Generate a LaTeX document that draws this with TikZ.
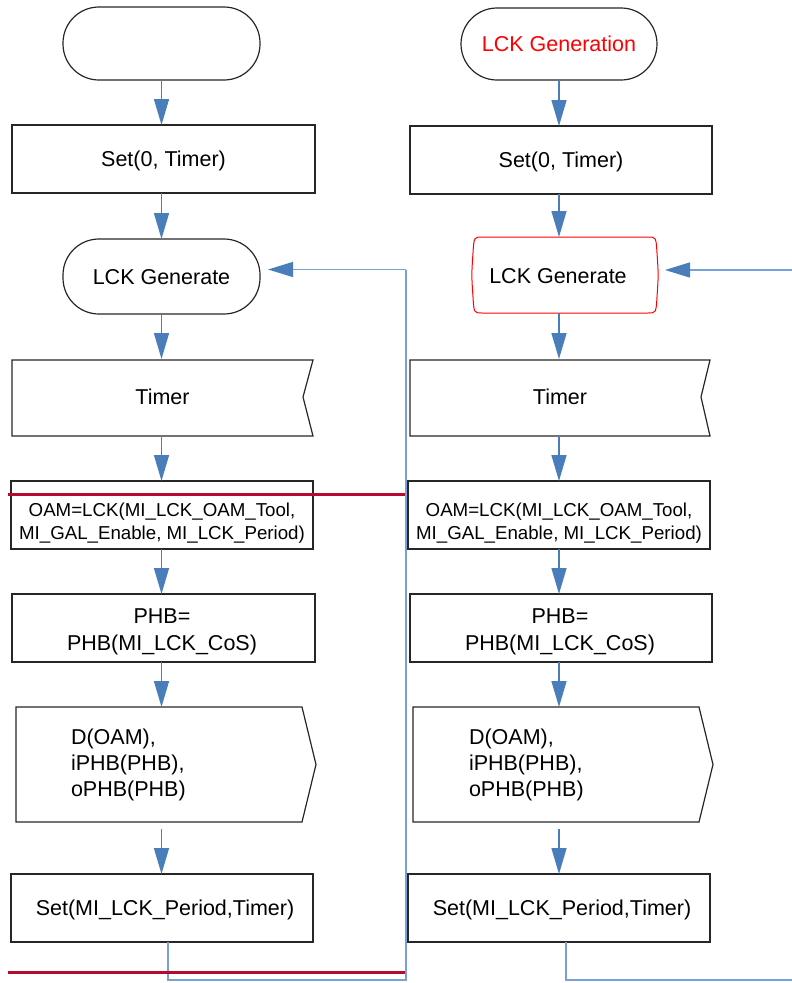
\documentclass[tikz,border=0pt]{standalone}
\usepackage{fontspec}
\setmainfont{Liberation Sans}
\usetikzlibrary{arrows.meta}
\definecolor{arrowblue}{RGB}{74,126,187}
\definecolor{loopblue}{RGB}{118,160,216}
\definecolor{outl}{RGB}{38,38,38}
\definecolor{redline}{RGB}{184,10,48}
\tikzset{
  base/.style={inner sep=0pt,outer sep=0pt,font=\fontsize{21.5}{27}\selectfont,align=center},
  capc/.style={text height=15.4pt,text depth=0pt},
  boxn/.style={base,capc,draw=outl,line width=1.2pt,minimum width=302pt,minimum height=68pt},
  termn/.style={base,capc,draw=outl,line width=1.2pt,rounded corners=36pt,minimum width=197pt,minimum height=73pt},
  plainn/.style={base},
  outline/.style={draw=outl,line width=1.2pt},
  conn/.style={draw=arrowblue,line width=1.5pt,-{Triangle[length=26pt,width=15pt,color=arrowblue]}},
  loopl/.style={draw=loopblue,line width=1.4pt},
  looparrow/.style={loopl,-{Triangle[length=25pt,width=15pt,color=arrowblue]}},
  redl/.style={draw=redline,line width=3pt}
}
\begin{document}
\begin{tikzpicture}[x=1pt,y=-1pt]
\useasboundingbox (0,0) rectangle (792,983);
% ---------- left column ----------
\coordinate (cx1) at (161.5,0);
\node[termn] (term1) at (161.5,43.5) {};
\node[boxn,minimum width=303pt] (set1) at (163.5,159) {Set(0, Timer)};
\node[termn,minimum height=75pt] (lck1) at (161.5,276.5) {LCK Generate};
\node[plainn,capc,minimum width=301pt,minimum height=76pt] (timer1) at (162.5,397) {Timer};
\draw[outline] ([yshift=-1pt]timer1.north west) -- ([yshift=-1pt]timer1.north east) -- ([xshift=-10pt]timer1.east) -- ([yshift=-1pt]timer1.south east) -- ([yshift=-1pt]timer1.south west) -- cycle;
\node[plainn,outline,minimum width=302pt,minimum height=68pt] (oam1) at (162,515) {};
\node[plainn,font=\fontsize{18.7}{22.5}\selectfont] (oam1t) at (162,523) {OAM=LCK(MI\_LCK\_OAM\_Tool,\\MI\_GAL\_Enable, MI\_LCK\_Period)};
\node[plainn,outline,minimum width=303pt,minimum height=68pt] (phb1) at (163.5,628) {};
\node[plainn] (phb1t) at (162,632) {PHB=\\PHB(MI\_LCK\_CoS)};
\node[plainn,minimum width=300pt,minimum height=115pt] (out1) at (166,764.5) {};
\draw[outline] (out1.north west) -- ([xshift=-14pt]out1.north east) -- (out1.east) -- ([xshift=-14pt]out1.south east) -- (out1.south west) -- cycle;
\node[plainn,anchor=west,align=left,font=\fontsize{21.5}{25.8}\selectfont] (out1t) at (71,765) {D(OAM),\\iPHB(PHB),\\oPHB(PHB)};
\node[plainn,outline,minimum width=302pt,minimum height=68pt] (setp1) at (162,908) {};
\node[plainn,capc] (setp1t) at (165,907.5) {Set(MI\_LCK\_Period,Timer)};

\draw[conn] (term1.south) -- (cx1 |- set1.north);
\draw[conn] (cx1 |- set1.south) -- (lck1.north);
\draw[conn] (lck1.south) -- (cx1 |- timer1.north);
\draw[conn] (cx1 |- timer1.south) -- (cx1 |- oam1.north);
\draw[conn] (cx1 |- oam1.south) -- (cx1 |- phb1.north);
\draw[conn] (cx1 |- phb1.south) -- (cx1 |- out1.north);
\draw[conn,shorten <=7pt] (cx1 |- out1.south) -- (cx1 |- setp1.north);

\coordinate (lb1) at (406,980);
\coordinate (lt1) at (406,269.5);
\draw[loopl] ([xshift=6pt]setp1.south) |- (lb1) -- (lt1);
\draw[looparrow] (lt1) -- ([xshift=8pt]lck1.east |- lt1);

% ---------- right column ----------
\coordinate (cx2) at (559,0);
\node[termn,minimum width=196pt,minimum height=72pt,text=red] (term2) at (559,44) {LCK Generation};
\node[boxn] (set2) at (561,160) {Set(0, Timer)};
\node[plainn,minimum width=184pt,minimum height=76pt] (lck2) at (565,275) {};
\draw[draw=red,line width=1pt] ([xshift=9pt]lck2.north west) -- ([xshift=-9pt]lck2.north east)
  .. controls ([xshift=-1pt]lck2.north east) .. ([yshift=-16pt]lck2.north east)
  .. controls ([xshift=1.5pt]lck2.east) .. ([yshift=16pt]lck2.south east)
  .. controls ([xshift=-1pt]lck2.south east) .. ([xshift=-9pt]lck2.south east)
  -- ([xshift=9pt]lck2.south west)
  .. controls ([xshift=1pt]lck2.south west) .. ([yshift=16pt]lck2.south west)
  .. controls ([xshift=-1.5pt]lck2.west) .. ([yshift=-16pt]lck2.north west)
  .. controls ([xshift=1pt]lck2.north west) .. cycle;
\node[plainn,capc] (lck2t) at (558,276) {LCK Generate};
\node[plainn,capc,minimum width=300pt,minimum height=76pt] (timer2) at (560,397) {Timer};
\draw[outline] ([yshift=-1pt]timer2.north west) -- ([yshift=-1pt]timer2.north east) -- ([xshift=-9pt]timer2.east) -- ([yshift=-1pt]timer2.south east) -- ([yshift=-1pt]timer2.south west) -- cycle;
\node[plainn,outline,minimum width=302pt,minimum height=68pt] (oam2) at (559,515) {};
\node[plainn,font=\fontsize{18.7}{22.5}\selectfont] (oam2t) at (559,523) {OAM=LCK(MI\_LCK\_OAM\_Tool,\\MI\_GAL\_Enable, MI\_LCK\_Period)};
\node[plainn,outline,minimum width=302pt,minimum height=68pt] (phb2) at (561,628) {};
\node[plainn] (phb2t) at (560,632) {PHB=\\PHB(MI\_LCK\_CoS)};
\node[plainn,minimum width=300pt,minimum height=115pt] (out2) at (563,764.5) {};
\draw[outline] (out2.north west) -- ([xshift=-14pt]out2.north east) -- (out2.east) -- ([xshift=-14pt]out2.south east) -- (out2.south west) -- cycle;
\node[plainn,anchor=west,align=left,font=\fontsize{21.5}{25.8}\selectfont] (out2t) at (469,765) {D(OAM),\\iPHB(PHB),\\oPHB(PHB)};
\node[plainn,outline,minimum width=302pt,minimum height=68pt] (setp2) at (559,908) {};
\node[plainn,capc] (setp2t) at (562,907.5) {Set(MI\_LCK\_Period,Timer)};

\draw[conn] (term2.south) -- (cx2 |- set2.north);
\draw[conn] (cx2 |- set2.south) -- (cx2 |- lck2.north);
\draw[conn] (cx2 |- lck2.south) -- (cx2 |- timer2.north);
\draw[conn] (cx2 |- timer2.south) -- (cx2 |- oam2.north);
\draw[conn] (cx2 |- oam2.south) -- (cx2 |- phb2.north);
\draw[conn] (cx2 |- phb2.south) -- (cx2 |- out2.north);
\draw[conn,shorten <=7pt] (cx2 |- out2.south) -- (cx2 |- setp2.north);

\coordinate (rb2) at (792,980);
\coordinate (rt2) at (792,270);
\draw[loopl] ([xshift=7pt]setp2.south) |- (rb2);
\draw[looparrow] (rt2) -- ([xshift=8pt]lck2.east |- rt2);

% ---------- red lines ----------
\coordinate (r1a) at (8,494);
\coordinate (r1b) at (405,494);
\coordinate (r2a) at (8,972);
\coordinate (r2b) at (405,972);
\draw[redl] (r1a) -- (r1b);
\draw[redl] (r2a) -- (r2b);
\end{tikzpicture}
\end{document}
